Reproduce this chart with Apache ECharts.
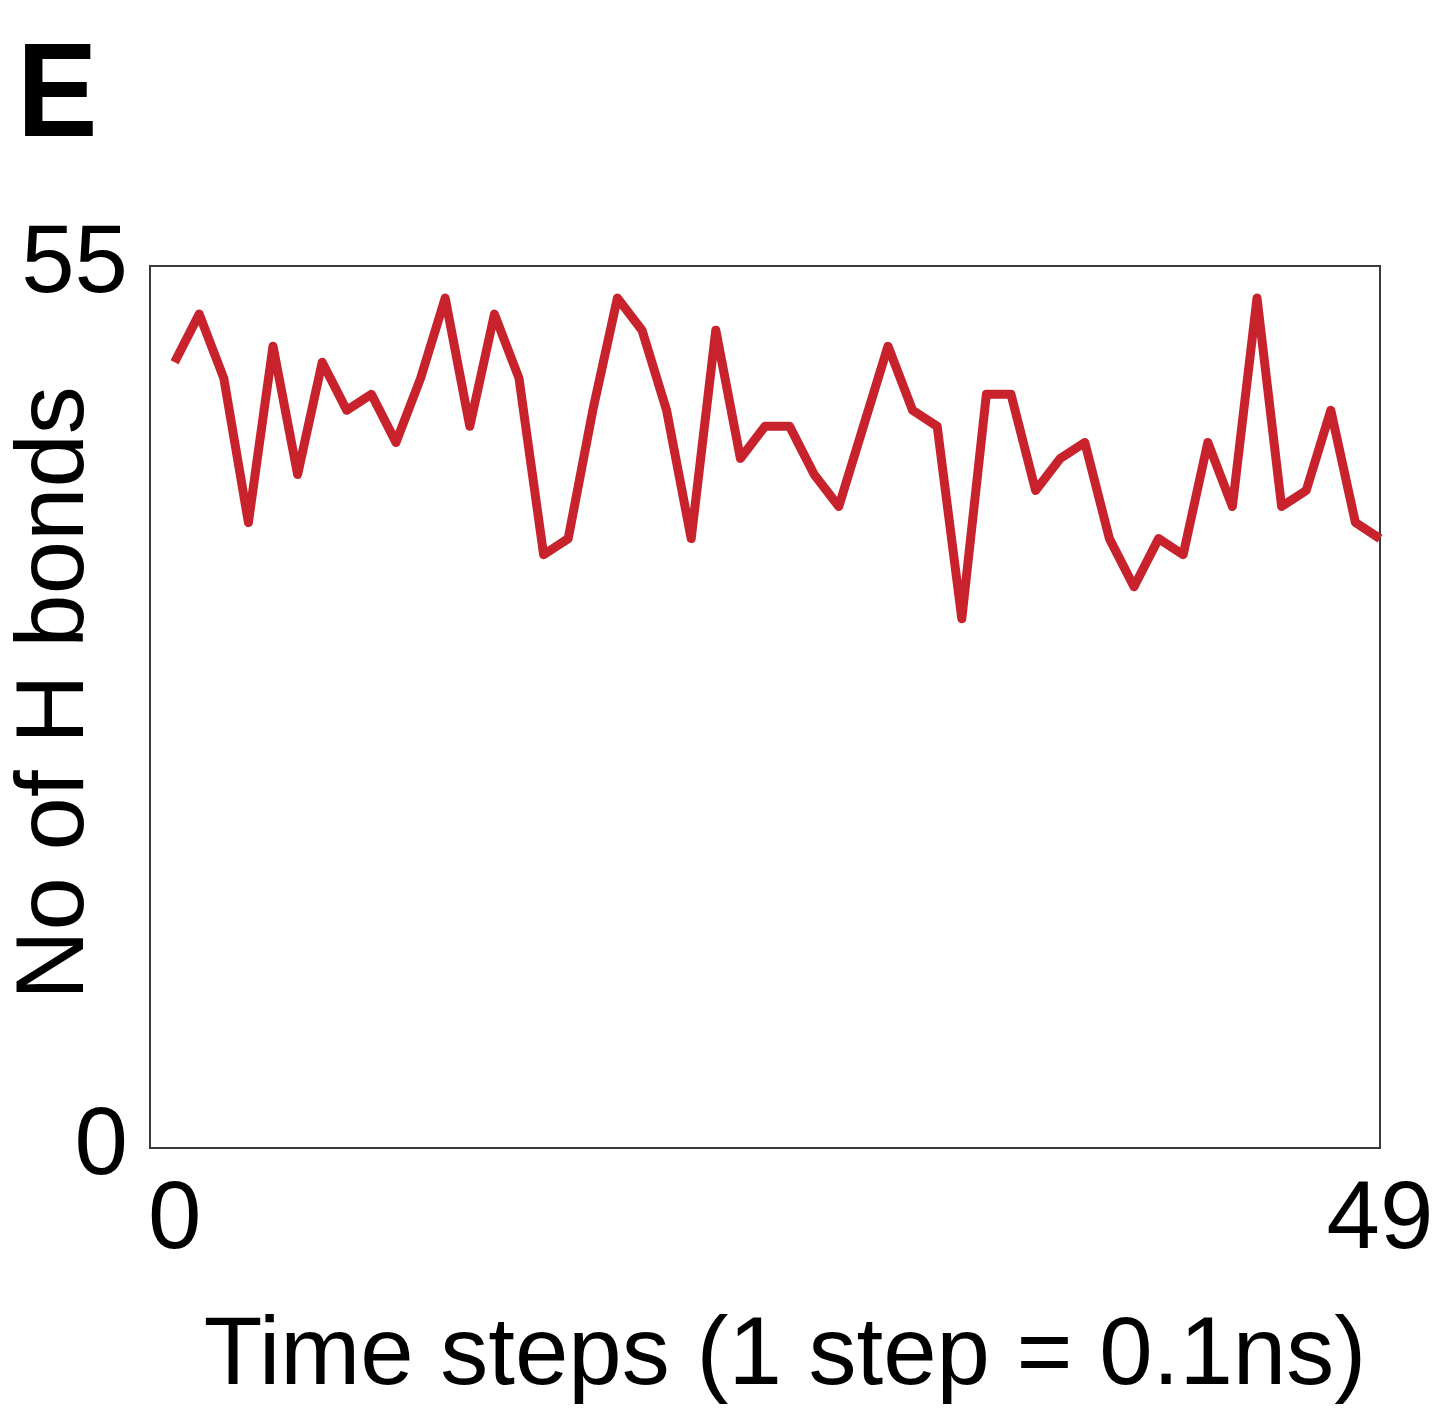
<!DOCTYPE html>
<html>
<head>
<meta charset="utf-8">
<style>
  html, body { margin: 0; padding: 0; background: #ffffff; }
  #chart { width: 1434px; height: 1418px; }
</style>
<script src="https://cdn.jsdelivr.net/npm/echarts@6/dist/echarts.min.js"></script>
</head>
<body>
<div id="chart"></div>
<script>
// Hydrogen-bond count per simulation time step (0 .. 49)
const timeSteps = [
  0, 1, 2, 3, 4, 5, 6, 7, 8, 9,
  10, 11, 12, 13, 14, 15, 16, 17, 18, 19,
  20, 21, 22, 23, 24, 25, 26, 27, 28, 29,
  30, 31, 32, 33, 34, 35, 36, 37, 38, 39,
  40, 41, 42, 43, 44, 45, 46, 47, 48, 49
];
const hBonds = [
  49, 52, 48, 39, 50, 42, 49, 46, 47, 44,
  48, 53, 45, 52, 48, 37, 38, 46, 53, 51,
  46, 38, 51, 43, 45, 45, 42, 40, 45, 50,
  46, 45, 33, 47, 47, 41, 43, 44, 38, 35,
  38, 37, 44, 40, 53, 40, 41, 46, 39, 38
];
const xTickLabels = [0, 49];
const yTickLabels = [0, 55];

const FONT = "'Liberation Sans', Arial, Helvetica, sans-serif";

const chart = echarts.init(document.getElementById('chart'), null, { renderer: 'canvas' });

chart.setOption({
  animation: false,
  backgroundColor: '#ffffff',
  graphic: [{
    // panel letter
    type: 'text',
    x: 17,
    y: 32,
    scaleX: 0.9,
    style: {
      text: 'E',
      font: "bold 134px 'Liberation Sans', Arial, sans-serif",
      fill: '#000',
      verticalAlign: 'top'
    }
  }],
  grid: {
    left: 150,
    right: 54,
    top: 266,
    bottom: 270,
    containLabel: false,
    outerBoundsMode: 'none',
    show: true,
    borderColor: '#3a3a3a',
    borderWidth: 2,
    backgroundColor: 'transparent'
  },
  xAxis: {
    type: 'value',
    min: -1,
    max: 49,
    interval: 1,
    name: 'Time steps (1 step = 0.1ns)',
    nameLocation: 'middle',
    nameGap: 162,
    nameMoveOverlap: false,
    nameTextStyle: { fontFamily: FONT, fontSize: 96, color: '#000', padding: [0, 0, 0, 40] },
    axisLine: { show: false },
    axisTick: { show: false },
    splitLine: { show: false },
    axisLabel: {
      fontFamily: FONT,
      fontSize: 96,
      color: '#000',
      margin: 26,
      formatter: v => (xTickLabels.includes(v) ? String(v) : '')
    }
  },
  yAxis: {
    type: 'value',
    min: 0,
    max: 55,
    interval: 55,
    name: 'No of H bonds',
    nameLocation: 'middle',
    nameGap: 45,
    nameRotate: 90,
    nameMoveOverlap: false,
    nameTextStyle: { fontFamily: FONT, fontSize: 96, color: '#000', padding: [0, 0, 0, 28] },
    axisLine: { show: false },
    axisTick: { show: false },
    splitLine: { show: false },
    axisLabel: {
      fontFamily: FONT,
      fontSize: 96,
      color: '#000',
      margin: 22,
      padding: [8, 0, 0, 0],
      formatter: v => (yTickLabels.includes(v) ? String(v) : '')
    }
  },
  series: [{
    type: 'line',
    data: timeSteps.map((t, i) => [t, hBonds[i]]),
    showSymbol: false,
    symbol: 'none',
    lineStyle: { color: '#c8222d', width: 9, join: 'round', cap: 'butt' },
    itemStyle: { color: '#c8222d' },
    z: 3
  }]
});
</script>
</body>
</html>
